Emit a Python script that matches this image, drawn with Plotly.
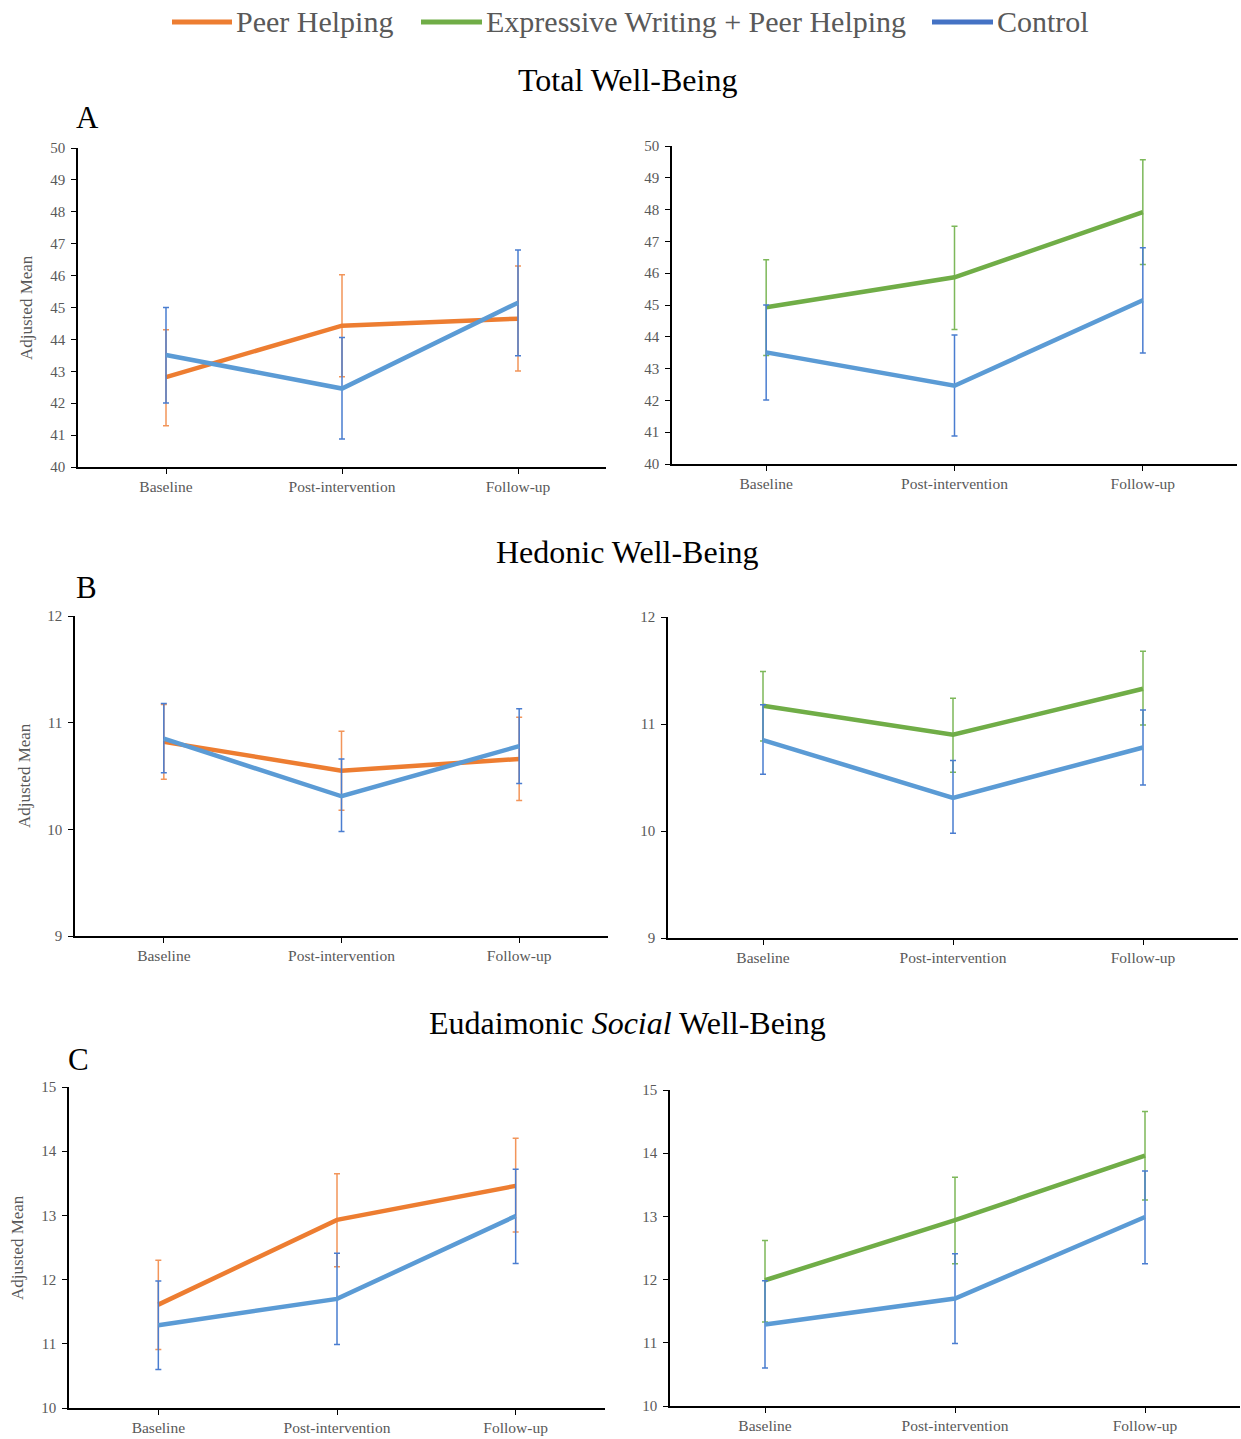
import plotly.graph_objects as go

# ---------------- data ----------------
CATEGORIES = ["Baseline", "Post-intervention", "Follow-up"]

# Total well-being
total_peer = [42.82, 44.43, 44.65]
total_peer_lo = [41.29, 42.83, 43.01]
total_peer_hi = [44.30, 46.03, 46.30]

total_ewph = [44.93, 45.87, 47.92]
total_ewph_lo = [43.41, 44.23, 46.27]
total_ewph_hi = [46.42, 47.48, 49.57]

total_ctrl = [43.51, 42.46, 45.15]
total_ctrl_lo = [42.01, 40.88, 43.49]
total_ctrl_hi = [45.00, 44.06, 46.80]

# Hedonic well-being
hed_peer = [10.82, 10.55, 10.66]
hed_peer_lo = [10.47, 10.18, 10.27]
hed_peer_hi = [11.17, 10.92, 11.05]

hed_ewph = [11.17, 10.90, 11.33]
hed_ewph_lo = [10.84, 10.55, 10.99]
hed_ewph_hi = [11.49, 11.24, 11.68]

hed_ctrl = [10.85, 10.31, 10.78]
hed_ctrl_lo = [10.53, 9.98, 10.43]
hed_ctrl_hi = [11.18, 10.66, 11.13]

# Eudaimonic social well-being
soc_peer = [11.61, 12.93, 13.46]
soc_peer_lo = [10.91, 12.20, 12.74]
soc_peer_hi = [12.30, 13.65, 14.20]

soc_ewph = [11.99, 12.94, 13.96]
soc_ewph_lo = [11.33, 12.25, 13.26]
soc_ewph_hi = [12.62, 13.62, 14.66]

soc_ctrl = [11.29, 11.70, 12.99]
soc_ctrl_lo = [10.60, 10.99, 12.25]
soc_ctrl_hi = [11.98, 12.41, 13.72]

SERIES_NAMES = ["Peer Helping", "Expressive Writing + Peer Helping", "Control"]
SECTION_TITLES = ["Total Well-Being", "Hedonic Well-Being",
                  "Eudaimonic <i>Social</i> Well-Being"]
PANEL_LETTERS = ["A", "B", "C"]
Y_TITLE = "Adjusted Mean"

# ---------------- styling ----------------
W, H = 1241, 1439
FONT = "Liberation Serif"
GREY = "#595959"
LINE_COLORS = {"peer": "#ED7D31", "ewph": "#70AD47", "ctrl": "#5B9BD5"}
ERR_COLORS = {"peer": "#F2955A", "ewph": "#7DB85A", "ctrl": "#4A7DD0"}
LEGEND_COLORS = ["#ED7D31", "#70AD47", "#4472C4"]

# page offset / usable height of the rendered figure
TOP_OFF = 8
USABLE_H = 1423


def px_x(p):
    return p / W


def px_y(p):
    return 1 - (p - TOP_OFF) / USABLE_H


# (left, right, top, bottom) in pixels, plus y range and ticks
panels = [
    dict(box=(78, 606, 148, 467), yr=(40, 50), dt=1,
         series=[("peer", total_peer, total_peer_lo, total_peer_hi),
                 ("ctrl", total_ctrl, total_ctrl_lo, total_ctrl_hi)]),
    dict(box=(672, 1237, 146, 464), yr=(40, 50), dt=1,
         series=[("ewph", total_ewph, total_ewph_lo, total_ewph_hi),
                 ("ctrl", total_ctrl, total_ctrl_lo, total_ctrl_hi)]),
    dict(box=(75, 608, 616, 936), yr=(9, 12), dt=1,
         series=[("peer", hed_peer, hed_peer_lo, hed_peer_hi),
                 ("ctrl", hed_ctrl, hed_ctrl_lo, hed_ctrl_hi)]),
    dict(box=(668, 1238, 617, 938), yr=(9, 12), dt=1,
         series=[("ewph", hed_ewph, hed_ewph_lo, hed_ewph_hi),
                 ("ctrl", hed_ctrl, hed_ctrl_lo, hed_ctrl_hi)]),
    dict(box=(69, 605, 1087, 1408), yr=(10, 15), dt=1,
         series=[("peer", soc_peer, soc_peer_lo, soc_peer_hi),
                 ("ctrl", soc_ctrl, soc_ctrl_lo, soc_ctrl_hi)]),
    dict(box=(670, 1240, 1090, 1406), yr=(10, 15), dt=1,
         series=[("ewph", soc_ewph, soc_ewph_lo, soc_ewph_hi),
                 ("ctrl", soc_ctrl, soc_ctrl_lo, soc_ctrl_hi)]),
]

fig = go.Figure()
layout_axes = {}

for i, p in enumerate(panels, start=1):
    l, r, t, b = p["box"]
    xa = "x" if i == 1 else f"x{i}"
    ya = "y" if i == 1 else f"y{i}"
    for key, mean, lo, hi in p["series"]:
        fig.add_trace(go.Scatter(
            x=CATEGORIES, y=mean, mode="lines",
            line=dict(color=LINE_COLORS[key], width=4.5),
            error_y=dict(type="data", symmetric=False,
                         array=[h - m for h, m in zip(hi, mean)],
                         arrayminus=[m - lo_ for m, lo_ in zip(mean, lo)],
                         color=ERR_COLORS[key], thickness=1.5, width=3),
            xaxis=xa, yaxis=ya, showlegend=False, hoverinfo="skip",
        ))
    axis_common = dict(
        showline=True, linecolor="black", linewidth=1.5,
        ticks="outside", ticklen=5, tickwidth=1, tickcolor="black",
        showgrid=False, zeroline=False,
    )
    layout_axes["xaxis" if i == 1 else f"xaxis{i}"] = dict(
        axis_common, domain=[px_x(l), px_x(r)], range=[-0.5, 2.5],
        type="category", anchor=ya,
        tickfont=dict(family=FONT, size=15.5, color=GREY),
    )
    lo_r, hi_r = p["yr"]
    layout_axes["yaxis" if i == 1 else f"yaxis{i}"] = dict(
        axis_common, domain=[px_y(b), px_y(t)], range=[lo_r, hi_r],
        tickmode="linear", tick0=lo_r, dtick=p["dt"], anchor=xa,
        ticklabelstandoff=3,
        tickfont=dict(family=FONT, size=15, color=GREY),
    )

annotations = []
shapes = []

# section titles and panel letters
for title, ty in zip(SECTION_TITLES, [80, 552, 1023]):
    annotations.append(dict(text=title, x=px_x(627), y=px_y(ty),
                            xref="paper", yref="paper", showarrow=False,
                            xanchor="center", yanchor="middle",
                            font=dict(family=FONT, size=32, color="black")))
for letter, (lx, ly) in zip(PANEL_LETTERS, [(87, 117), (86, 588), (78, 1059)]):
    annotations.append(dict(text=letter, x=px_x(lx), y=px_y(ly),
                            xref="paper", yref="paper", showarrow=False,
                            xanchor="center", yanchor="middle",
                            font=dict(family=FONT, size=31, color="black")))

# y-axis titles on the left-hand panels
for (ax_x, cy) in [(27, 308), (25, 776), (17, 1248)]:
    annotations.append(dict(text=Y_TITLE, x=px_x(ax_x), y=px_y(cy),
                            xref="paper", yref="paper", showarrow=False,
                            textangle=-90, xanchor="center", yanchor="middle",
                            font=dict(family=FONT, size=17, color=GREY)))

# shared legend along the top
legend_items = [(172, 232), (421, 482), (932, 993)]
for name, color, (x0, x1) in zip(SERIES_NAMES, LEGEND_COLORS, legend_items):
    shapes.append(dict(type="line", xref="paper", yref="paper",
                       x0=px_x(x0), x1=px_x(x1), y0=px_y(22), y1=px_y(22),
                       line=dict(color=color, width=5)))
    annotations.append(dict(text=name, x=px_x(x1 + 2), y=px_y(22),
                            xref="paper", yref="paper", showarrow=False,
                            xanchor="left", yanchor="middle",
                            font=dict(family=FONT, size=30, color=GREY)))

fig.update_layout(
    width=W, height=H,
    margin=dict(l=0, r=0, t=0, b=0),
    paper_bgcolor="white", plot_bgcolor="white",
    showlegend=False,
    annotations=annotations, shapes=shapes,
    **layout_axes,
)

fig.write_html("out.html")
